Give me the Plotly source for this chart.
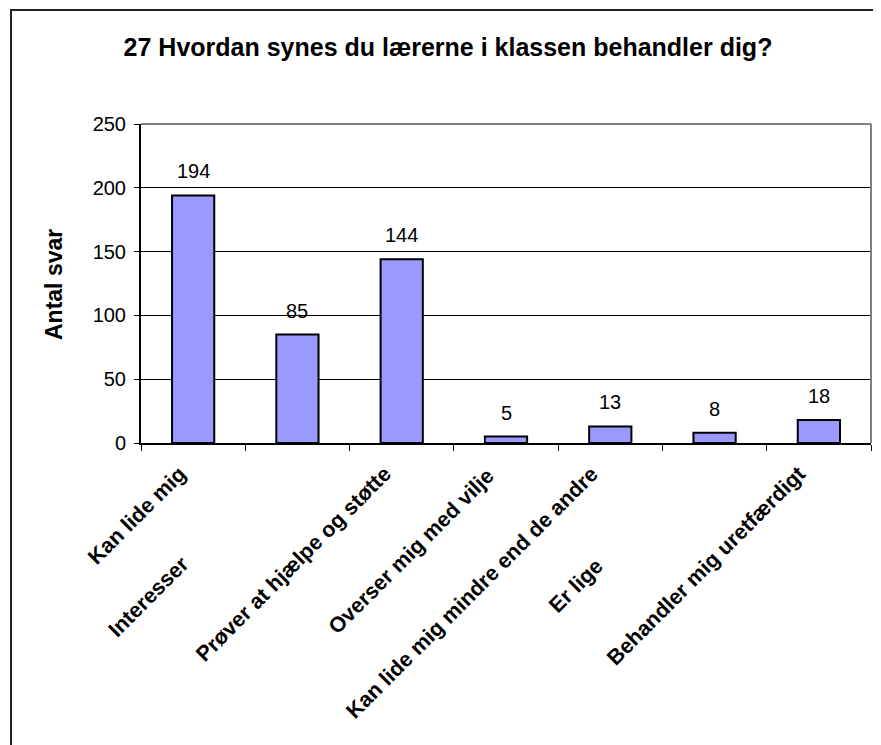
import plotly.graph_objects as go

title_text = "27 Hvordan synes du lærerne i klassen behandler dig?"
y_title = "Antal svar"
categories = ["Kan lide mig", "Interesser", "Prøver at hjælpe og støtte",
              "Overser mig med vilje", "Kan lide mig mindre end de andre",
              "Er lige", "Behandler mig uretfærdigt"]
values = [194, 85, 144, 5, 13, 8, 18]
y_ticks = [0, 50, 100, 150, 200, 250]

# page body has an 8px margin, so the figure is drawn 8px smaller / shifted
OFF = 8
W, H = 881 - OFF, 745 - OFF
L, R, T, B = 141 - OFF, 10, 124 - OFF, 302
pw = W - L - R
ph = H - T - B

def px_x(px):
    return (px - OFF - L) / pw

def px_y(py):
    return (H - B - (py - OFF)) / ph

FONT = "Liberation Sans, Arial, sans-serif"

fig = go.Figure()
fig.add_trace(go.Bar(
    x=categories, y=values,
    marker=dict(color="#9999FF", line=dict(color="black", width=2)),
    hoverinfo="x+y",
))

ann = []
# data labels
for c, v in zip(categories, values):
    ann.append(dict(x=c, y=v, xref="x", yref="y", text=str(v), showarrow=False,
                    yanchor="bottom", yshift=11,
                    font=dict(family=FONT, size=20, color="black")))

# category labels (staggered as in the reference)
label_pos = {0: (0, 0, -16), 1: (0, 3, -106), 2: (2, -3, -16), 3: (3, -4, -17),
             4: (4, -5, -17), 5: (4, 0, -108), 6: (6, -6, -16)}
for i, c in enumerate(categories):
    ci, xs, ys = label_pos[i]
    ann.append(dict(x=categories[ci], y=0, xref="x", yref="paper", text="<b>%s</b>" % c,
                    showarrow=False, textangle=-45, xanchor="right", yanchor="top",
                    xshift=xs, yshift=ys,
                    font=dict(family=FONT, size=21.5, color="black")))

# y-axis title
ann.append(dict(x=px_x(54), y=px_y(285), xref="paper", yref="paper",
                text="<b>%s</b>" % y_title, showarrow=False, textangle=-90,
                xanchor="center", yanchor="middle",
                font=dict(family=FONT, size=23, color="black")))

shapes = [
    # outer chart border
    dict(type="rect", xref="paper", yref="paper",
         x0=px_x(11), x1=px_x(881 + 10), y0=px_y(745 + 10), y1=px_y(10),
         line=dict(color="#222222", width=2), fillcolor="rgba(0,0,0,0)", layer="below"),
    # plot-area grey top and right edges
    dict(type="line", xref="paper", yref="paper", x0=0, x1=1, y0=1, y1=1,
         line=dict(color="#808080", width=2)),
    dict(type="line", xref="paper", yref="paper", x0=1, x1=1, y0=0, y1=1,
         line=dict(color="#808080", width=2)),
]

fig.update_layout(
    width=W, height=H,
    margin=dict(l=L, r=R, t=T, b=B, autoexpand=False),
    paper_bgcolor="white", plot_bgcolor="white",
    bargap=0.595,
    showlegend=False,
    title=dict(text="<b>%s</b>" % title_text, x=(448 - OFF) / W, y=1 - (47 - OFF) / H,
               xanchor="center", yanchor="middle", xref="container", yref="container",
               font=dict(family=FONT, size=25, color="black")),
    xaxis=dict(showticklabels=False, tickson="boundaries", ticks="outside", ticklen=6,
               range=[-0.5, len(categories) - 0.5], autorange=False,
               tickcolor="black", tickwidth=1, showline=True, linecolor="black",
               linewidth=2, showgrid=False, fixedrange=True),
    yaxis=dict(range=[0, 250], autorange=False, tickvals=y_ticks, ticks="outside", ticklen=5,
               tickcolor="black", showline=True, linecolor="black", linewidth=2,
               showgrid=True, gridcolor="black", gridwidth=1, zeroline=False,
               ticklabelstandoff=4,
               tickfont=dict(family=FONT, size=20, color="black"), fixedrange=True),
    annotations=ann,
    shapes=shapes,
)

fig.write_html("out.html")
